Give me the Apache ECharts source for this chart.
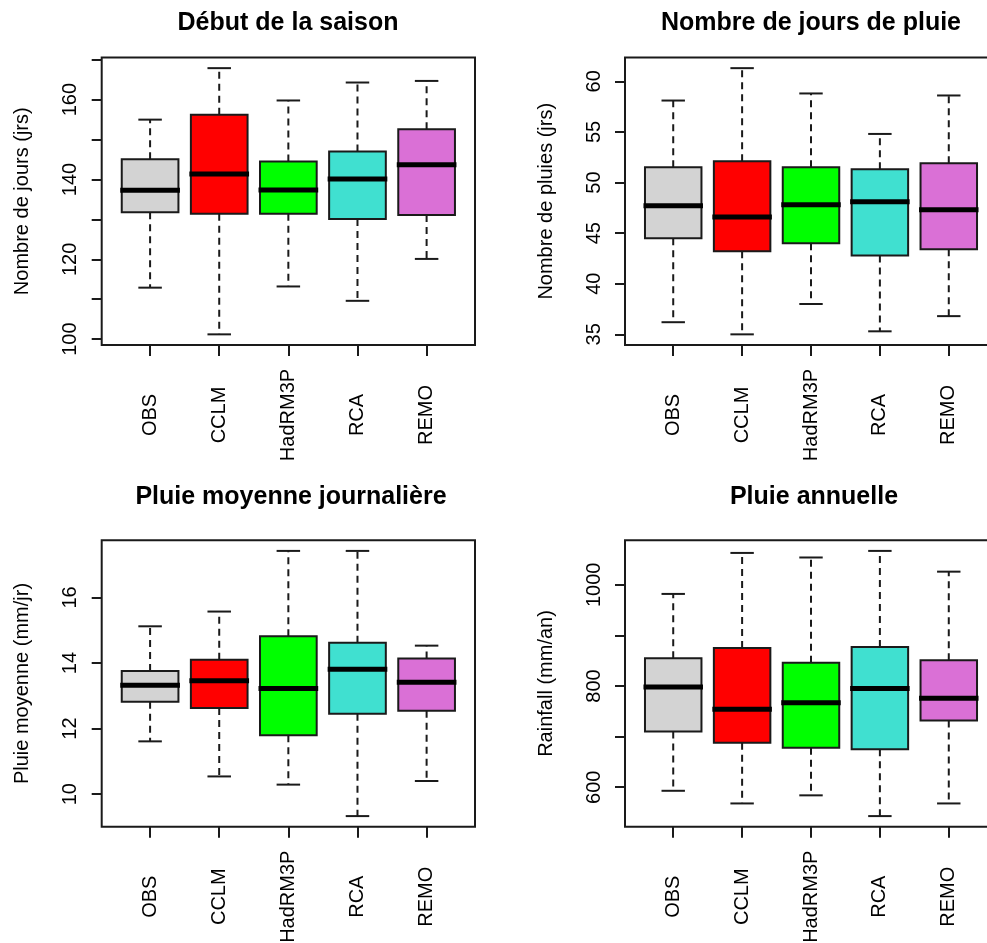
<!DOCTYPE html>
<html><head><meta charset="utf-8">
<script src="https://cdn.jsdelivr.net/npm/echarts@6/dist/echarts.min.js"></script>
<style>html,body{margin:0;padding:0;background:#fff}#c{width:987px;height:943px}</style>
</head><body><div id="c"></div>
<script>
const categories = ['OBS', 'CCLM', 'HadRM3P', 'RCA', 'REMO'];
const boxColors = ['#D3D3D3', '#FF0000', '#00FF00', '#40E0D0', '#DA70D6'];

// Panel 1: Début de la saison
const debutLow    = [112.9, 101.2, 113.2, 109.6, 120.1];
const debutQ1     = [131.8, 131.4, 131.4, 130.1, 131.1];
const debutMedian = [137.3, 141.4, 137.4, 140.1, 143.7];
const debutQ3     = [145.1, 156.2, 144.5, 147.0, 152.6];
const debutHigh   = [155.0, 167.9, 159.8, 164.3, 164.7];
const debutTicks  = [100, 110, 120, 130, 140, 150, 160, 170];
const debutLabels = [100, 120, 140, 160];

// Panel 2: Nombre de jours de pluie
const joursLow    = [36.2, 35.0, 38.0, 35.3, 36.8];
const joursQ1     = [44.5, 43.2, 44.0, 42.8, 43.4];
const joursMedian = [47.7, 46.6, 47.8, 48.1, 47.3];
const joursQ3     = [51.5, 52.1, 51.5, 51.3, 51.9];
const joursHigh   = [58.1, 61.3, 58.8, 54.8, 58.6];
const joursTicks  = [35, 40, 45, 50, 55, 60];
const joursLabels = [35, 40, 45, 50, 55, 60];

// Panel 3: Pluie moyenne journalière
const moyLow    = [11.61, 10.54, 10.29, 9.33, 10.40];
const moyQ1     = [12.82, 12.63, 11.80, 12.45, 12.54];
const moyMedian = [13.32, 13.46, 13.22, 13.81, 13.41];
const moyQ3     = [13.76, 14.10, 14.82, 14.62, 14.14];
const moyHigh   = [15.12, 15.57, 17.42, 17.42, 14.53];
const moyTicks  = [10, 12, 14, 16];
const moyLabels = [10, 12, 14, 16];

// Panel 4: Pluie annuelle
const annLow    = [593, 568, 584, 543, 568];
const annQ1     = [710, 688, 678, 675, 732];
const annMedian = [798, 754, 767, 795, 776];
const annQ3     = [855, 875, 846, 877, 851];
const annHigh   = [982, 1063, 1054, 1067, 1026];
const annTicks  = [600, 700, 800, 900, 1000];
const annLabels = [600, 800, 1000];

const titles = ['Début de la saison', 'Nombre de jours de pluie', 'Pluie moyenne journalière', 'Pluie annuelle'];
const yNames = ['Nombre de jours (jrs)', 'Nombre de pluies (jrs)', 'Pluie moyenne (mm/jr)', 'Rainfall (mm/an)'];

const panelData = [
  [debutLow, debutQ1, debutMedian, debutQ3, debutHigh, debutTicks, debutLabels],
  [joursLow, joursQ1, joursMedian, joursQ3, joursHigh, joursTicks, joursLabels],
  [moyLow, moyQ1, moyMedian, moyQ3, moyHigh, moyTicks, moyLabels],
  [annLow, annQ1, annMedian, annQ3, annHigh, annTicks, annLabels]
];

// layout (pixels)
const layout = [
  {left: 101.7, top: 57.5, width: 373.3, height: 287.5, tx: 288, ty: 23},
  {left: 625, top: 57.5, width: 372, height: 287.5, tx: 811, ty: 23},
  {left: 101.7, top: 540.3, width: 373.3, height: 286.4, tx: 291, ty: 497},
  {left: 625, top: 540.3, width: 372, height: 286.4, tx: 814, ty: 497}
];

const FONT = '"Liberation Sans", Arial, Helvetica, sans-serif';
const INK = '#1a1a1a';

function renderBox(params, api) {
  const x = api.value(0);
  const lo = api.value(1), q1 = api.value(2), med = api.value(3), q3 = api.value(4), hi = api.value(5);
  const half = api.size([0.41, 0])[0];
  const stap = api.size([0.17, 0])[0];
  const pLo = api.coord([x, lo]), pQ1 = api.coord([x, q1]), pMed = api.coord([x, med]);
  const pQ3 = api.coord([x, q3]), pHi = api.coord([x, hi]);
  const cx = pMed[0];
  const color = boxColors[params.dataIndex];
  const dash = {stroke: INK, lineWidth: 2, lineDash: [7, 5]};
  const solid = {stroke: INK, lineWidth: 2};
  return {
    type: 'group',
    children: [
      {type: 'line', shape: {x1: cx, y1: pQ3[1], x2: cx, y2: pHi[1]}, style: dash},
      {type: 'line', shape: {x1: cx, y1: pQ1[1], x2: cx, y2: pLo[1]}, style: dash},
      {type: 'line', shape: {x1: cx - stap, y1: pHi[1], x2: cx + stap, y2: pHi[1]}, style: solid},
      {type: 'line', shape: {x1: cx - stap, y1: pLo[1], x2: cx + stap, y2: pLo[1]}, style: solid},
      {type: 'rect', shape: {x: cx - half, y: pQ3[1], width: 2 * half, height: pQ1[1] - pQ3[1]},
        style: {fill: color, stroke: INK, lineWidth: 2}},
      {type: 'line', shape: {x1: cx - half - 1.5, y1: pMed[1], x2: cx + half + 1.5, y2: pMed[1]},
        style: {stroke: '#000', lineWidth: 5}}
    ]
  };
}

const grids = [], xAxes = [], yAxes = [], series = [], graphics = [];
panelData.forEach((pd, i) => {
  const [low, q1, med, q3, high, ticks, labels] = pd;
  const L = layout[i];
  const dmin = Math.min(...low), dmax = Math.max(...high);
  const pad = (dmax - dmin) * 0.04;
  grids.push({left: L.left, top: L.top, width: L.width, height: L.height,
    outerBoundsMode: 'none', containLabel: false,
    show: true, borderColor: INK, borderWidth: 2, backgroundColor: 'transparent'});
  xAxes.push({
    type: 'value', gridIndex: i, min: 0.3, max: 5.7,
    axisLine: {show: false}, splitLine: {show: false},
    axisTick: {show: true, customValues: [1, 2, 3, 4, 5], length: 11, lineStyle: {color: INK, width: 2}},
    axisLabel: {show: true, customValues: [1, 2, 3, 4, 5], rotate: 90, align: 'center', verticalAlign: 'middle',
      margin: 70, fontSize: 20, fontFamily: FONT, color: '#000',
      formatter: v => categories[Math.round(v) - 1]}
  });
  yAxes.push({
    type: 'value', gridIndex: i, min: dmin - pad, max: dmax + pad,
    axisLine: {show: false}, splitLine: {show: false},
    axisTick: {show: true, customValues: ticks, length: 10, lineStyle: {color: INK, width: 2}},
    axisLabel: {show: true, customValues: labels, rotate: 90, align: 'center', verticalAlign: 'middle',
      margin: 31, fontSize: 20, fontFamily: FONT, color: '#000', formatter: v => String(v)},
    name: yNames[i], nameLocation: 'middle', nameRotate: 90, nameGap: 79,
    nameTextStyle: {fontSize: 20, fontFamily: FONT, color: '#000', align: 'center', verticalAlign: 'middle'}
  });
  series.push({
    type: 'custom', xAxisIndex: i, yAxisIndex: i,
    renderItem: renderBox,
    encode: {x: 0, y: [1, 2, 3, 4, 5]},
    data: categories.map((c, k) => [k + 1, low[k], q1[k], med[k], q3[k], high[k]]),
    silent: true
  });
  graphics.push({
    type: 'text', x: L.tx, y: L.ty,
    style: {text: titles[i], font: 'bold 25px ' + FONT, fill: '#000', textAlign: 'center', textVerticalAlign: 'middle'}
  });
});

const chart = echarts.init(document.getElementById('c'), null, {renderer: 'canvas'});
chart.setOption({
  animation: false,
  backgroundColor: '#fff',
  grid: grids, xAxis: xAxes, yAxis: yAxes, series: series,
  graphic: graphics
});
</script>
</body></html>
